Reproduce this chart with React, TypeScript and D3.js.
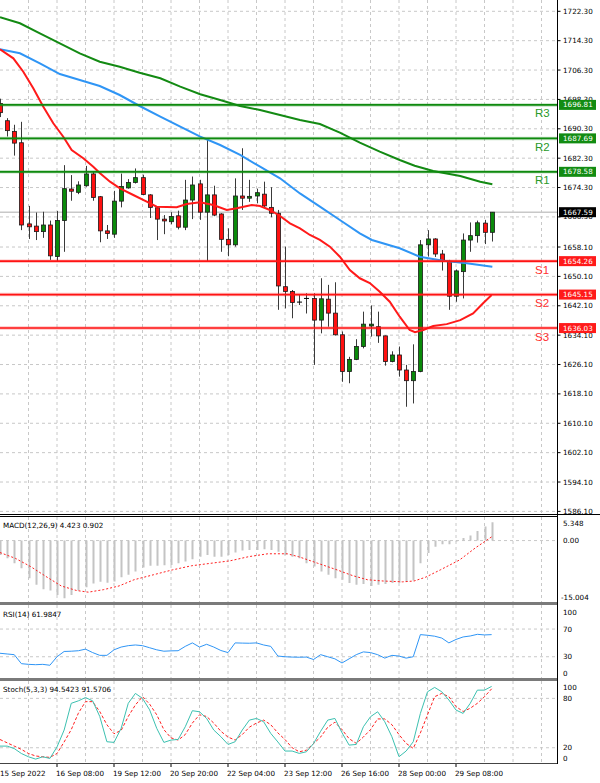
import React from "react";
import * as d3 from "d3";

// ---------- DATA ----------
const opens = [1697.2,1692.5,1689.6,1686.5,1664.4,1663.8,1662.3,1664.1,1655.5,1665.3,1673.9,1673.0,1674.8,1678.0,1671.8,1662.5,1661.6,1670.6,1674.2,1675.7,1677.0,1672.3,1668.8,1665.7,1665.0,1666.6,1663.5,1670.9,1675.3,1667.6,1672.3,1667.1,1660.2,1658.7,1672.0,1671.4,1672.0,1672.5,1668.9,1667.3,1647.3,1646.0,1643.0,1644.0,1644.1,1638.2,1643.9,1640.1,1634.2,1624.2,1627.5,1631.0,1636.6,1636.4,1633.9,1626.9,1628.7,1624.6,1621.7,1624.2,1658.7,1660.3,1656.2,1654.1,1644.7,1651.4,1660.0,1661.2,1664.6,1662.1];
const highs = [1698.5,1693.2,1691.4,1692.2,1669.3,1667.5,1667.7,1665.3,1667.9,1680.4,1677.7,1676.0,1680.2,1678.5,1672.0,1664.1,1673.4,1678.1,1676.6,1679.5,1677.8,1672.5,1669.0,1666.8,1667.6,1668.0,1676.4,1677.3,1676.4,1687.7,1674.8,1667.3,1663.2,1676.8,1685.0,1676.4,1674.0,1675.9,1674.4,1668.2,1658.2,1646.4,1645.3,1645.5,1645.5,1649.6,1647.8,1648.5,1635.1,1628.2,1633.0,1640.5,1642.2,1640.5,1634.0,1629.7,1631.0,1626.0,1631.6,1660.0,1662.7,1660.5,1657.3,1654.6,1652.0,1661.8,1664.8,1665.3,1665.5,1667.59];
const lows = [1693.5,1688.2,1683.0,1662.7,1660.3,1660.0,1660.6,1654.6,1654.1,1656.8,1670.7,1672.5,1674.5,1670.7,1659.4,1660.3,1660.6,1668.9,1674.0,1675.4,1672.2,1666.0,1660.0,1661.6,1664.3,1662.9,1662.7,1665.7,1665.5,1654.2,1666.5,1656.8,1655.6,1658.2,1668.2,1670.4,1670.0,1668.8,1666.2,1641.0,1641.4,1638.7,1642.3,1640.0,1626.0,1634.6,1636.4,1634.0,1621.4,1621.0,1627.3,1630.5,1633.7,1632.0,1625.8,1626.7,1622.8,1614.6,1615.5,1624.0,1655.5,1655.4,1651.7,1641.0,1643.2,1644.1,1656.8,1659.3,1658.9,1659.6];
const closes = [1694.7,1689.8,1686.4,1664.1,1663.6,1662.3,1664.1,1655.7,1665.3,1674.0,1673.3,1675.0,1678.0,1671.6,1662.5,1661.8,1670.6,1674.6,1675.7,1677.0,1672.4,1668.9,1665.7,1665.2,1666.4,1663.5,1670.9,1675.0,1667.6,1672.3,1666.8,1660.2,1658.7,1672.0,1671.4,1671.9,1672.9,1669.3,1667.3,1647.5,1646.0,1643.0,1643.1,1644.1,1638.2,1644.0,1640.1,1634.2,1624.2,1627.5,1631.0,1637.1,1637.1,1633.9,1626.9,1628.7,1624.6,1621.7,1624.2,1658.7,1660.3,1656.2,1654.4,1644.7,1651.6,1660.0,1661.2,1664.7,1662.1,1667.59];

// moving averages: [bar index, price]
const maSlow = [[0,1720.67],[2.8,1719.03],[5.6,1716.31],[8.4,1713.59],[11.2,1710.86],[14,1708.57],[16.8,1707.21],[19.6,1705.58],[22.5,1704.05],[25.3,1701.77],[28.1,1699.7],[30.9,1698.14],[33.7,1696.51],[36.5,1695.42],[39.3,1694.06],[42.1,1692.7],[44.9,1691.61],[47.7,1689.24],[50.5,1686.52],[53.3,1684.07],[56.1,1681.8],[58.2,1680.25],[60.8,1678.81],[64.6,1677.45],[67.4,1675.9],[69.1,1675.19]];
const maMid = [[0,1711.95],[2.8,1710.86],[5.6,1708.14],[8.4,1705.22],[11.2,1703.59],[14,1701.96],[16.8,1699.5],[19.6,1696.51],[22.5,1693.6],[25.3,1690.87],[28.1,1688.15],[30.9,1685.89],[33.7,1683.17],[36.5,1679.98],[39.3,1676.82],[42.1,1672.7],[44.9,1669.09],[47.7,1665.47],[50.5,1661.84],[52.2,1660.02],[56.1,1657.76],[58.9,1655.47],[62.2,1654.38],[65.5,1653.67],[69.1,1652.75]];
const maFast = [[0,1711.95],[1.87,1709.5],[3.27,1705.85],[4.67,1701.33],[6.08,1696.32],[7.48,1691.8],[8.88,1688.15],[10.06,1684.53],[11.69,1682.27],[13.09,1679.98],[14.04,1678.18],[15.44,1675.9],[16.84,1674.1],[18.71,1672.27],[20.59,1670.45],[21.99,1669.09],[24.8,1668.92],[26.2,1669.82],[28.07,1670.28],[29.94,1669.55],[31.82,1668.19],[33.22,1668.65],[35.33,1669.55],[36.49,1669.28],[37.89,1668.19],[39.3,1666.55],[40.7,1664.57],[42.1,1663.2],[43.5,1661.38],[44.9,1660.02],[46.3,1658.2],[47.7,1655.47],[49.1,1651.85],[50.5,1649.59],[51.9,1648.3],[53.3,1645.94],[54.7,1643.2],[56.1,1639.13],[57.5,1635.5],[58.25,1634.88],[59.4,1635.5],[60.8,1636.6],[62.7,1637.1],[64.6,1638.2],[66.4,1640.0],[67.8,1642.8],[69,1645.04]];

const levelNames = ["R3","R2","R1","S1","S2","S3"];
const levelValues = [1696.81,1687.69,1678.58,1654.26,1645.15,1636.03];
const lastPrice = 1667.59;

const priceTicks = ["1722.30","1714.30","1706.30","1698.30","1690.30","1682.30","1674.30","1666.30","1658.10","1650.10","1642.10","1634.10","1626.10","1618.10","1610.10","1602.10","1594.10","1586.10"];

const dateLabels = ["15 Sep 2022","16 Sep 08:00","19 Sep 12:00","20 Sep 20:00","22 Sep 04:00","23 Sep 12:00","26 Sep 16:00","28 Sep 00:00","29 Sep 08:00"];
const dateLabelBars = [0,8,16,24,32,40,48,56,64];

const macdMain = [-3.5,-4.3,-5.5,-6.7,-9.1,-10.7,-11.8,-12.1,-13.2,-14.0,-13.2,-12.1,-11.3,-10.4,-10.0,-10.2,-9.9,-8.9,-8.3,-7.5,-6.5,-6.1,-6.1,-6.0,-5.9,-5.5,-5.1,-4.5,-3.9,-3.5,-3.9,-3.9,-3.5,-2.9,-2.4,-2.3,-2.3,-2.1,-2.3,-2.7,-3.5,-3.9,-4.3,-5.5,-6.3,-7.5,-8.3,-9.1,-9.5,-10.3,-10.7,-10.5,-11.0,-10.7,-10.5,-10.3,-10.2,-10.0,-9.7,-5.5,-3.0,-1.5,-0.9,-0.9,-0.2,0.6,1.2,2.3,3.4,4.423];
const macdSignal = [[0,-2.9],[2.15,-4.3],[4.3,-6.3],[6.45,-8.7],[8.6,-11.0],[10.75,-12.1],[12.4,-12.5],[14.5,-11.9],[16.7,-11.0],[18.8,-9.5],[21.5,-8.3],[24.2,-7.1],[26.9,-6.1],[29.6,-5.5],[32.3,-4.9],[34.9,-3.9],[37.6,-3.2],[40.3,-3.2],[41.9,-3.9],[44.6,-5.5],[47.3,-7.1],[49.5,-8.5],[51.6,-9.5],[53.8,-9.8],[56.5,-10.0],[58.1,-9.8],[59.7,-8.9],[61.8,-7.1],[64.5,-4.7],[66.7,-1.8],[69,0.902]];

const rsiValues = [35,34,33,20,19,18.5,19,17.7,30,37.6,38,38.7,41,36,32,32,40,44,46,47,46,43,40,38,38.5,38.7,45,50,44,48,44,39,36,50,49.7,49.5,50,47,45,31,30,29.5,29.3,29.5,26,33,30,27,21,27,33,37,36,33,28,32,31,28,30,62,61,59.7,57,50,55,58.6,60,62.4,61.5,61.98];

const stochMain = [22,22,19,13,9,6.2,9,7,21,41.5,74,77,81,77,58,27.3,26.5,43.5,74,86,80,66,43.5,26.5,29.3,30.1,45.5,65,63.7,55.6,41.5,33.4,24,27.3,41.5,53.6,55.6,51.6,37.4,27,16,16,13.1,15.1,25,40,53.6,55.6,38.2,23.2,24,45.5,57.7,63.7,51.6,33.4,9.1,16,27.3,61.7,88,93.3,88,78,65.8,61.7,74,90,90,94.54];
const stochSignal = [30,26,22,18,13,10,9,8.3,13,27,42,62,76,76,64,48,37,41,58,72,82,73,60,42,32,29.3,36,50,60,58,50,40,33,29.3,36,45,50,53.6,48,38,30,20,15.1,17,25,33,45,51,42,31,25.3,33,42,55,55,48,36,25.3,19.2,38,60,82,86,82,70,64,68,74,82,91.57];

// ---------- COMPONENT ----------
const FONT = "DejaVu Sans, sans-serif";
const FS = 7.2;
const PLOT_R = 557.5;
const GREEN_LVL = "#0f8a0f";
const RED_LVL = "#ff1414";

export default function App() {
  const step = 7.125;
  const x = d3.scaleLinear().domain([0, 78]).range([0, 78 * step]);
  const yMain = d3.scaleLinear().domain([1586.1, 1722.3]).range([511.4, 11.3]);
  const yMacd = d3.scaleLinear().domain([-15.004, 5.348]).range([602.5, 518.5]);
  const yRsi = d3.scaleLinear().domain([0, 100]).range([677.5, 608.3]);
  const ySto = d3.scaleLinear().domain([0, 100]).range([764.2, 681.9]);

  const gridBars = d3.range(4, 78, 4);

  const pairLine = (ys: d3.ScaleLinear<number, number>) =>
    d3.line<number[]>().x((d) => x(d[0])).y((d) => ys(d[1]));
  const seriesLine = (ys: d3.ScaleLinear<number, number>) =>
    d3.line<number>().x((_, i) => x(i)).y((d) => ys(d));

  const vGrid = (y0: number, y1: number, key: string) =>
    gridBars.map((b) => (
      <line key={key + b} x1={x(b)} x2={x(b)} y1={y0} y2={y1} stroke="#c8c8c8" strokeDasharray="3,3" strokeWidth={1} />
    ));

  const hLine = (y: number, key: string) => (
    <line key={key} x1={0} x2={PLOT_R} y1={y} y2={y} stroke="#c8c8c8" strokeDasharray="3,3" strokeWidth={1} />
  );

  const bodyW = 4;

  return (
    <svg width={600} height={783} style={{ position: "absolute", left: 0, top: 0, background: "#fff" }} fontFamily={FONT}>
      <defs>
        <clipPath id="mainClip"><rect x={0} y={0} width={PLOT_R} height={514} /></clipPath>
        <clipPath id="macdClip"><rect x={0} y={517} width={PLOT_R} height={85} /></clipPath>
        <clipPath id="rsiClip"><rect x={0} y={605} width={PLOT_R} height={73} /></clipPath>
        <clipPath id="stoClip"><rect x={0} y={681} width={PLOT_R} height={82} /></clipPath>
      </defs>
      <rect x={0} y={0} width={600} height={783} fill="#fff" />

      {/* ===== MAIN PANEL ===== */}
      <g clipPath="url(#mainClip)">
        {vGrid(0, 514, "mv")}
        {priceTicks.map((t) => hLine(yMain(+t), "mh" + t))}
        <line x1={0} x2={PLOT_R} y1={yMain(lastPrice)} y2={yMain(lastPrice)} stroke="#c8c8c8" strokeWidth={1.5} />
        {/* candles */}
        {opens.map((o, i) => {
          const c = closes[i];
          const cx = Math.round(x(i)) + 0.5;
          const up = c > o + 0.15;
          const down = o > c + 0.15;
          const top = yMain(Math.max(o, c));
          const bot = yMain(Math.min(o, c));
          const fill = up ? "#0a8a0a" : down ? "#ff1010" : "#000";
          return (
            <g key={"c" + i}>
              <line x1={cx} x2={cx} y1={yMain(highs[i])} y2={yMain(lows[i])} stroke="#3a3a3a" strokeWidth={1} />
              {up || down ? (
                <rect x={cx - bodyW / 2} y={top} width={bodyW} height={Math.max(1, bot - top)} fill={fill} stroke="#1a1a1a" strokeWidth={0.8} />
              ) : (
                <line x1={cx - 2.5} x2={cx + 2.5} y1={top} y2={top} stroke="#000" strokeWidth={1} />
              )}
            </g>
          );
        })}
        {/* moving averages */}
        <path d={pairLine(yMain)(maSlow) || ""} fill="none" stroke="#138a13" strokeWidth={2} />
        <path d={pairLine(yMain)(maMid) || ""} fill="none" stroke="#2f95f5" strokeWidth={2} />
        <path d={pairLine(yMain)(maFast) || ""} fill="none" stroke="#ff1a1a" strokeWidth={2} />
        {/* levels */}
        {levelValues.map((v, i) => {
          const isR = levelNames[i][0] === "R";
          const col = isR ? GREEN_LVL : RED_LVL;
          return (
            <g key={"lv" + i}>
              <line x1={0} x2={PLOT_R} y1={yMain(v)} y2={yMain(v)} stroke={col} strokeOpacity={0.25} strokeWidth={3.5} />
              <line x1={0} x2={PLOT_R} y1={yMain(v)} y2={yMain(v)} stroke={col} strokeWidth={1.6} />
              <text x={535} y={yMain(v) + 12.5} fontSize={11.5} fontFamily="Liberation Sans, Arial, sans-serif" fill={isR ? "#2a9a2a" : "#ff3030"}>
                {levelNames[i]}
              </text>
            </g>
          );
        })}
      </g>

      {/* main axis */}
      <line x1={PLOT_R} x2={PLOT_R} y1={0} y2={514} stroke="#000" strokeWidth={1} />
      {priceTicks.map((t) => (
        <g key={"pt" + t}>
          <line x1={PLOT_R} x2={PLOT_R + 3} y1={yMain(+t)} y2={yMain(+t)} stroke="#000" />
          <text x={563} y={yMain(+t)} dominantBaseline="central" fontSize={FS} fill="#000">{t}</text>
        </g>
      ))}
      {levelValues.map((v, i) => {
        const isR = levelNames[i][0] === "R";
        return (
          <g key={"tag" + i}>
            <rect x={559} y={yMain(v) - 5} width={37} height={10} fill={isR ? "#128c12" : "#ff1a1a"} />
            <text x={563} y={yMain(v)} dominantBaseline="central" fontSize={FS} fill="#fff">{v.toFixed(2)}</text>
          </g>
        );
      })}
      <rect x={559} y={yMain(lastPrice) - 5} width={37} height={10} fill="#000" />
      <text x={563} y={yMain(lastPrice)} dominantBaseline="central" fontSize={FS} fill="#fff">{lastPrice.toFixed(2)}</text>

      {/* separators */}
      <line x1={0} x2={600} y1={514.5} y2={514.5} stroke="#000" />
      <line x1={0} x2={PLOT_R} y1={516.5} y2={516.5} stroke="#000" />

      {/* ===== MACD ===== */}
      <g clipPath="url(#macdClip)">
        {vGrid(517, 602, "macv")}
        {hLine(yMacd(0), "macz")}
        {macdMain.map((v, i) => (
          <line key={"mb" + i} x1={Math.round(x(i)) + 0.5} x2={Math.round(x(i)) + 0.5} y1={yMacd(0)} y2={yMacd(v)} stroke="#c4c4c4" strokeWidth={2} />
        ))}
        <path d={pairLine(yMacd)(macdSignal) || ""} fill="none" stroke="#ff2020" strokeWidth={1} strokeDasharray="2,2" />
      </g>
      <text x={3} y={525} dominantBaseline="central" fontSize={FS} fill="#000">MACD(12,26,9) 4.423 0.902</text>
      <text x={563} y={523} dominantBaseline="central" fontSize={FS}>5.348</text>
      <text x={563} y={yMacd(0)} dominantBaseline="central" fontSize={FS}>0.00</text>
      <text x={561} y={597} dominantBaseline="central" fontSize={FS}>-15.004</text>
      <rect x={0} y={602} width={PLOT_R + 0.5} height={3} fill="#7a7a7a" />

      {/* ===== RSI ===== */}
      <g clipPath="url(#rsiClip)">
        {vGrid(605, 678, "rsv")}
        {hLine(yRsi(70), "r70")}
        {hLine(yRsi(30), "r30")}
        <path d={seriesLine(yRsi)(rsiValues) || ""} fill="none" stroke="#2f95f5" strokeWidth={1} />
      </g>
      <text x={3} y={614} dominantBaseline="central" fontSize={FS}>RSI(14) 61.9847</text>
      <text x={563} y={612} dominantBaseline="central" fontSize={FS}>100</text>
      <text x={563} y={yRsi(70)} dominantBaseline="central" fontSize={FS}>70</text>
      <text x={563} y={yRsi(30)} dominantBaseline="central" fontSize={FS}>30</text>
      <text x={563} y={673} dominantBaseline="central" fontSize={FS}>0</text>
      <rect x={0} y={678} width={PLOT_R + 0.5} height={3} fill="#7a7a7a" />

      {/* ===== STOCH ===== */}
      <g clipPath="url(#stoClip)">
        {vGrid(681, 763, "stv")}
        {hLine(ySto(80), "s80")}
        {hLine(ySto(20), "s20")}
        <path d={seriesLine(ySto)(stochSignal) || ""} fill="none" stroke="#ff2020" strokeWidth={1} strokeDasharray="3,2" />
        <path d={seriesLine(ySto)(stochMain) || ""} fill="none" stroke="#3cc0b0" strokeWidth={1} />
      </g>
      <text x={3} y={689} dominantBaseline="central" fontSize={FS}>Stoch(5,3,3) 94.5423 91.5706</text>
      <text x={563} y={687} dominantBaseline="central" fontSize={FS}>100</text>
      <text x={563} y={ySto(80)} dominantBaseline="central" fontSize={FS}>80</text>
      <text x={563} y={ySto(20)} dominantBaseline="central" fontSize={FS}>20</text>
      <text x={563} y={758} dominantBaseline="central" fontSize={FS}>0</text>
      <line x1={0} x2={PLOT_R} y1={763.5} y2={763.5} stroke="#444" />

      <line x1={PLOT_R} x2={PLOT_R} y1={514} y2={764} stroke="#000" />

      {/* x axis labels */}
      {dateLabels.map((l, i) => {
        const bx = x(dateLabelBars[i]);
        return (
          <g key={"dl" + i}>
            {i > 0 && <line x1={bx} x2={bx} y1={764} y2={767} stroke="#000" />}
            <text x={i === 0 ? 0 : bx - 1} y={773} dominantBaseline="central" fontSize={FS}>{l}</text>
          </g>
        );
      })}
    </svg>
  );
}
